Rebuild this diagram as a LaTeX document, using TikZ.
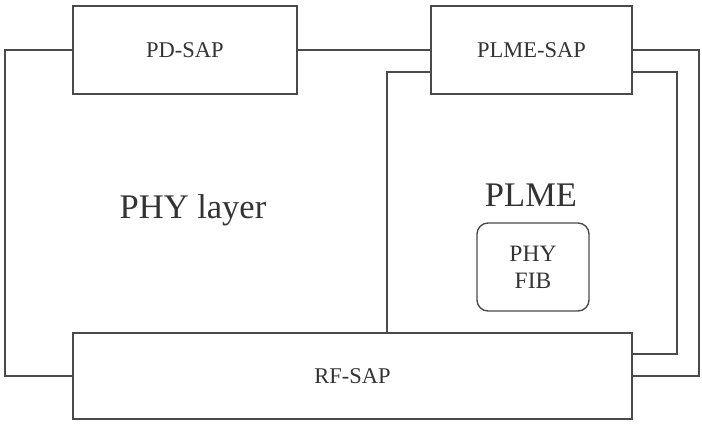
\documentclass[tikz,border=0pt]{standalone}
\usepackage{fontspec}
\setmainfont{Liberation Serif}
\usetikzlibrary{calc}
\definecolor{ln}{HTML}{4A4A4A}
\definecolor{tx}{HTML}{333333}
\begin{document}
\begin{tikzpicture}[x=1pt,y=-1pt,
  sapbox/.style={draw=ln,line width=1.4pt,rectangle,inner sep=0pt,text=tx,font=\fontsize{22.5}{24}\selectfont},
  fibbox/.style={draw=ln,line width=1.4pt,rectangle,rounded corners=11pt,inner sep=0pt,text=tx,align=center,font=\fontsize{23.5}{27}\selectfont},
  wire/.style={draw=ln,line width=1.4pt},
  big/.style={text=tx,font=\fontsize{34.5}{38}\selectfont}]
\useasboundingbox (0,0) rectangle (702,432);
\node[sapbox,minimum width=224pt,minimum height=88pt] (pd) at (185,50) {PD-SAP};
\node[sapbox,minimum width=201pt,minimum height=88pt] (ps) at (531.5,50) {PLME-SAP};
\node[sapbox,minimum width=559pt,minimum height=86pt] (rf) at (352.5,376) {RF-SAP};
\node[fibbox,minimum width=112pt,minimum height=88pt] (fib) at (533,267) {PHY\\FIB};
\node[big] (phy) at (193,210) {PHY layer};
\node[big] (plme) at (531,195) {PLME};
\coordinate (ol) at (5,50);
\coordinate (or) at (699,50);
\coordinate (il) at (387,72);
\coordinate (ir) at (677,72);
\draw[wire] (pd.west) -- (ol) |- (rf.west);
\draw[wire] (pd.east) -- (ps.west);
\draw[wire] (ps.east) -- (or) |- (rf.east);
\draw[wire] (ps.west |- il) -- (il) -- (il |- rf.north);
\draw[wire] (ps.east |- ir) -- (ir) |- ($(rf.east)+(0,-22)$);
\end{tikzpicture}
\end{document}
